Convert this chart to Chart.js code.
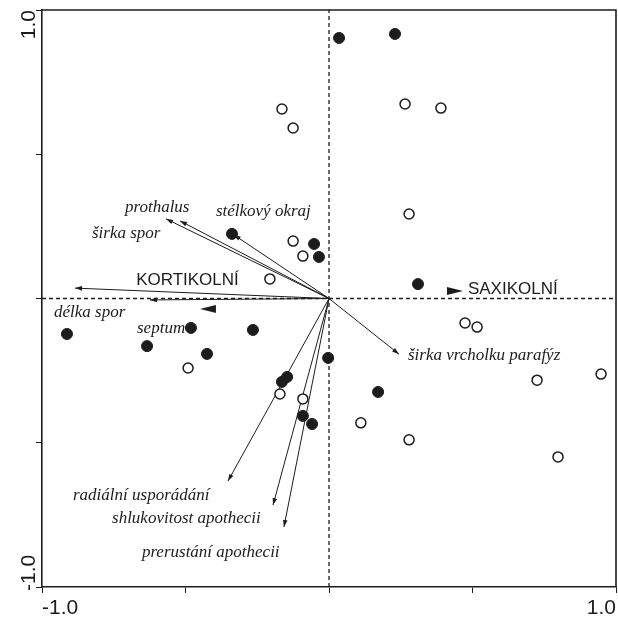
<!doctype html>
<html lang="cs">
  <head>
    <meta charset="utf-8">
    <title>Ordinační diagram</title>
    <style>
      * {
        margin: 0;
        padding: 0;
      }
      body {
        background: #fff;
      }
      .chartBox {
        width: 618px;
        height: 618px;
      }
    </style>
  </head>
  <body>
    <div class="chartBox">
      <canvas id="myChart" width="618" height="618"></canvas>
    </div>
    <script src="https://cdn.jsdelivr.net/npm/chart.js"></script>
    <script>
    // setup - sample scores (filled = one group, open = the other)
    const filledX = [0.035, 0.230, -0.338, -0.052, -0.035, 0.310, -0.913, -0.481, -0.634, -0.265, -0.425, -0.003, -0.146, -0.164, 0.171, -0.091, -0.059];
    const filledY = [0.903, 0.917, 0.224, 0.189, 0.144, 0.050, -0.123, -0.102, -0.165, -0.109, -0.192, -0.206, -0.272, -0.289, -0.324, -0.407, -0.435];
    const openX = [-0.164, -0.125, 0.265, 0.390, 0.279, -0.125, -0.091, -0.206, 0.474, 0.516, 0.725, 0.948, -0.491, -0.171, -0.091, 0.111, 0.279, 0.798];
    const openY = [0.657, 0.591, 0.674, 0.660, 0.293, 0.199, 0.147, 0.068, -0.085, -0.099, -0.283, -0.262, -0.241, -0.331, -0.348, -0.431, -0.490, -0.549];

    // trait arrows (tips) and their labels (left edge, baseline)
    const arrowNames = ['prothalus', 'širka spor', 'stélkový okraj', 'délka spor', 'septum', 'širka vrcholku parafýz', 'radiální usporádání', 'shlukovitost apothecii', 'prerustání apothecii'];
    const arrowX = [-0.519, -0.568, -0.332, -0.885, -0.624, 0.244, -0.352, -0.195, -0.157];
    const arrowY = [0.269, 0.276, 0.221, 0.036, -0.005, -0.193, -0.633, -0.716, -0.792];
    const labelX = [-0.711, -0.826, -0.394, -0.958, -0.669, 0.275, -0.892, -0.756, -0.652];
    const labelY = [0.300, 0.210, 0.286, -0.064, -0.120, -0.213, -0.698, -0.778, -0.896];

    // substrate centroids
    const centroidNames = ['KORTIKOLNÍ', 'SAXIKOLNÍ'];
    const centroidX = [-0.422, 0.439];
    const centroidY = [-0.036, 0.026];
    const centroidLabelX = [-0.672, 0.484];
    const centroidLabelY = [0.047, 0.016];

    const tickValues = [-1, 1];
    const tickLabels = ['-1.0', '1.0'];

    const ink = '#1c1c1c';

    // small elongated triangle used as point style for centroids
    function triangleStyle(dir) {
      const c = document.createElement('canvas');
      c.width = 18;
      c.height = 10;
      const g = c.getContext('2d');
      g.fillStyle = ink;
      g.beginPath();
      if (dir < 0) {
        g.moveTo(1, 5); g.lineTo(17, 1); g.lineTo(17, 9);
      } else {
        g.moveTo(17, 5); g.lineTo(1, 1); g.lineTo(1, 9);
      }
      g.closePath();
      g.fill();
      return c;
    }

    const datasets = [
      {
        label: 'filled',
        data: filledX.map((v, i) => ({x: v, y: filledY[i]})),
        pointRadius: 5.5,
        pointBackgroundColor: ink,
        pointBorderColor: ink,
        pointBorderWidth: 1
      },
      {
        label: 'open',
        data: openX.map((v, i) => ({x: v, y: openY[i]})),
        pointRadius: 5,
        pointBackgroundColor: '#fff',
        pointBorderColor: ink,
        pointBorderWidth: 1.5
      },
      {
        label: 'centroids',
        data: centroidX.map((v, i) => ({x: v, y: centroidY[i]})),
        pointStyle: [triangleStyle(-1), triangleStyle(1)],
        pointRadius: 9
      }
    ];

    // arrows from the origin
    arrowX.forEach((v, i) => {
      datasets.push({
        label: arrowNames[i],
        data: [{x: 0, y: 0}, {x: v, y: arrowY[i]}],
        showLine: true,
        borderColor: ink,
        borderWidth: 1,
        pointRadius: 0
      });
    });

    // dashed zero lines
    datasets.push({
      label: 'x0',
      data: [{x: 0, y: -1}, {x: 0, y: 1}],
      showLine: true, borderColor: ink, borderWidth: 1.3, borderDash: [4, 3], pointRadius: 0
    });
    datasets.push({
      label: 'y0',
      data: [{x: -1, y: 0}, {x: 1, y: 0}],
      showLine: true, borderColor: ink, borderWidth: 1.3, borderDash: [4, 3], pointRadius: 0
    });

    // frame, arrowheads and all texts
    const biplotPlugin = {
      id: 'biplot',
      afterDatasetsDraw(chart) {
        const {ctx, chartArea: a, scales: {x, y}} = chart;
        ctx.save();
        ctx.strokeStyle = ink;
        ctx.fillStyle = ink;
        ctx.lineWidth = 1.6;
        ctx.beginPath();
        ctx.moveTo(a.left, a.top);
        ctx.lineTo(a.right, a.top);
        ctx.lineTo(a.right, a.bottom);
        ctx.stroke();

        const ox = x.getPixelForValue(0);
        const oy = y.getPixelForValue(0);
        arrowX.forEach((v, i) => {
          const px = x.getPixelForValue(v);
          const py = y.getPixelForValue(arrowY[i]);
          const ang = Math.atan2(py - oy, px - ox);
          ctx.save();
          ctx.translate(px, py);
          ctx.rotate(ang);
          ctx.beginPath();
          ctx.moveTo(0, 0);
          ctx.lineTo(-7, -2.3);
          ctx.lineTo(-7, 2.3);
          ctx.closePath();
          ctx.fill();
          ctx.restore();
        });

        ctx.textBaseline = 'alphabetic';
        ctx.textAlign = 'left';
        ctx.font = 'italic 17px "Liberation Serif", "DejaVu Serif", serif';
        arrowNames.forEach((name, i) => {
          ctx.fillText(name, x.getPixelForValue(labelX[i]), y.getPixelForValue(labelY[i]));
        });

        ctx.font = '17px "Liberation Sans", Arial, sans-serif';
        centroidNames.forEach((name, i) => {
          ctx.fillText(name, x.getPixelForValue(centroidLabelX[i]), y.getPixelForValue(centroidLabelY[i]));
        });

        // tick labels only at the ends
        ctx.font = '21px "Liberation Sans", Arial, sans-serif';
        tickValues.forEach((v, i) => {
          ctx.textAlign = v < 0 ? 'left' : 'right';
          ctx.fillText(tickLabels[i], x.getPixelForValue(v), a.bottom + 27);
          ctx.save();
          ctx.translate(a.left - 7, y.getPixelForValue(v) + (v < 0 ? 4 : 0));
          ctx.rotate(-Math.PI / 2);
          ctx.fillText(tickLabels[i], 0, 0);
          ctx.restore();
        });
        ctx.restore();
      }
    };

    const axisOpts = {
      min: -1,
      max: 1,
      ticks: { stepSize: 0.5, display: false },
      grid: { drawOnChartArea: false, drawTicks: true, tickLength: 6, color: ink, lineWidth: 1 },
      border: { display: true, color: ink, width: 1.6 }
    };

    // config
    const config = {
      type: 'scatter',
      data: { datasets },
      plugins: [biplotPlugin],
      options: {
        responsive: false,
        animation: false,
        layout: { autoPadding: false, padding: { left: 42, top: 10, right: 2, bottom: 31 } },
        plugins: { legend: { display: false }, tooltip: { enabled: false } },
        scales: {
          x: { ...axisOpts, afterFit: (s) => { s.height = 0; } },
          y: { ...axisOpts, afterFit: (s) => { s.width = 0; } }
        }
      }
    };

    // render init block
    const myChart = new Chart(document.getElementById('myChart'), config);
    </script>
  </body>
</html>
